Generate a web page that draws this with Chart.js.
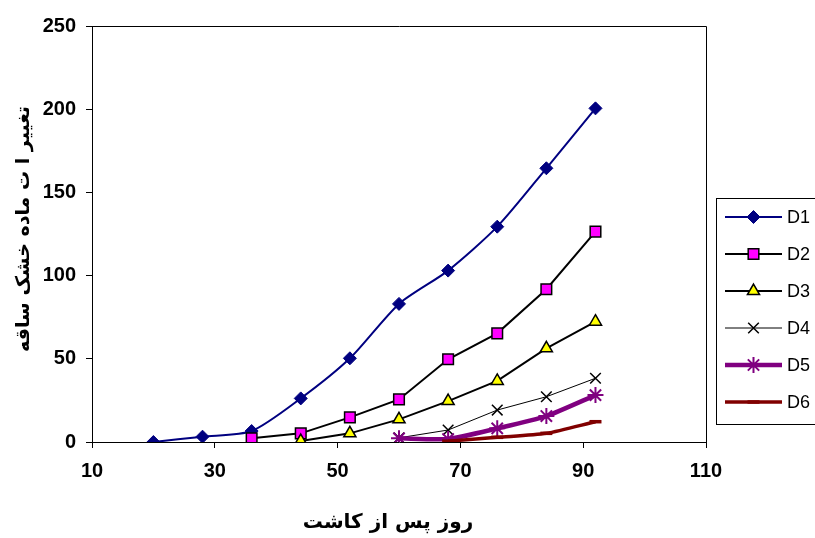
<!DOCTYPE html>
<html>
<head>
<meta charset="utf-8">
<script src="https://cdn.jsdelivr.net/npm/chart.js@4.4.0/dist/chart.umd.min.js"></script>
<style>
html,body{margin:0;padding:0;background:#fff;}
#wrap{width:815px;height:538px;position:relative;}
</style>
</head>
<body>
<div id="wrap"><canvas id="c" width="815" height="538"></canvas></div>
<script>
const days = [20, 28, 36, 44, 52, 60, 68, 76, 84, 92];
const seriesNames = ['D1', 'D2', 'D3', 'D4', 'D5', 'D6'];
const d1 = [0, 3.2, 6.6, 26.2, 50.3, 83, 103, 129.4, 164.5, 200.5];
const d2 = [null, null, 2.2, 5.2, 14.8, 25.6, 49.7, 65.3, 91.8, 126.4];
const d3 = [null, null, null, 0.6, 5.2, 13.6, 24.6, 36.7, 56.3, 72.3];
const d4 = [null, null, null, null, null, 2.5, 7.2, 19.2, 27.2, 38.3];
const d5 = [null, null, null, null, null, 2.2, 1.8, 8.2, 15.6, 28.2];
const d6 = [null, null, null, null, null, null, 0.5, 2.8, 5.2, 12.2];
const xTicks = [10, 30, 50, 70, 90, 110];
const yTicks = [0, 50, 100, 150, 200, 250];
const xTitle = 'روز پس از کاشت';
const yTitle = 'تغییر ا ت ماده خشک ساقه';

function pts(vals) {
  const out = [];
  vals.forEach((v, i) => { if (v !== null) out.push({x: days[i], y: v}); });
  return out;
}

const styles = [
  {line: '#000080', fill: '#000080', border: '#000080', lw: 2, ps: 'rectRot', r: 6.5, bw: 1, t: 0.25},
  {line: '#000000', fill: '#FF00FF', border: '#000000', lw: 2, ps: 'rect', r: 7.5, bw: 1.5, t: 0},
  {line: '#000000', fill: '#FFFF00', border: '#000000', lw: 2, ps: 'triangle', r: 7, bw: 1.5, t: 0},
  {line: '#000000', fill: '#000000', border: '#000000', lw: 1, ps: 'crossRot', r: 7.5, bw: 1.5, t: 0},
  {line: '#800080', fill: '#800080', border: '#800080', lw: 4.5, ps: 'star', r: 8, bw: 2, t: 0.2},
  {line: '#800000', fill: '#800000', border: '#800000', lw: 3.5, ps: 'line', r: 6, bw: 3.5, t: 0.25}
];
const allVals = [d1, d2, d3, d4, d5, d6];

const datasets = allVals.map((vals, i) => ({
  label: seriesNames[i],
  data: pts(vals),
  borderColor: styles[i].line,
  borderWidth: styles[i].lw,
  tension: styles[i].t,
  pointStyle: styles[i].ps,
  pointRadius: styles[i].r,
  pointHoverRadius: styles[i].r,
  pointBackgroundColor: styles[i].fill,
  pointBorderColor: styles[i].border,
  pointBorderWidth: styles[i].bw,
  fill: false,
  order: 6 - i
}));

const framePlugin = {
  id: 'frame',
  beforeDatasetsDraw(chart) {
    const a = chart.chartArea, ctx = chart.ctx;
    ctx.save();
    ctx.strokeStyle = '#000';
    ctx.lineWidth = 1;
    ctx.beginPath();
    ctx.moveTo(Math.round(a.left) + 0.5, Math.round(a.top) + 0.5);
    ctx.lineTo(Math.round(a.right) + 0.5, Math.round(a.top) + 0.5);
    ctx.lineTo(Math.round(a.right) + 0.5, Math.round(a.bottom) + 0.5);
    ctx.stroke();
    ctx.restore();
  }
};

const titlePlugin = {
  id: 'axisTitles',
  afterDraw(chart) {
    const ctx = chart.ctx;
    ctx.save();
    ctx.fillStyle = '#000';
    ctx.font = 'bold 20px "DejaVu Sans", sans-serif';
    ctx.textAlign = 'center';
    ctx.textBaseline = 'middle';
    ctx.fillText(xTitle, 388, 523);
    ctx.translate(24, 229);
    ctx.rotate(-Math.PI / 2);
    ctx.font = 'bold 19px "DejaVu Sans", sans-serif';
    ctx.fillText(yTitle, 0, 0);
    ctx.restore();
  }
};

const legendPlugin = {
  id: 'customLegend',
  afterDraw(chart) {
    const ctx = chart.ctx;
    ctx.save();
    ctx.strokeStyle = '#000';
    ctx.lineWidth = 1;
    ctx.strokeRect(716.5, 198.5, 120, 226);
    chart.data.datasets.forEach((ds, i) => {
      const y = 217 + 37 * i;
      ctx.strokeStyle = ds.borderColor;
      ctx.lineWidth = ds.borderWidth;
      ctx.beginPath();
      ctx.moveTo(725, y);
      ctx.lineTo(782, y);
      ctx.stroke();
      ctx.fillStyle = ds.pointBackgroundColor;
      ctx.strokeStyle = ds.pointBorderColor;
      ctx.lineWidth = ds.pointBorderWidth;
      if (Chart.helpers && Chart.helpers.drawPoint) {
        Chart.helpers.drawPoint(ctx, {pointStyle: ds.pointStyle, radius: ds.pointRadius, borderWidth: ds.pointBorderWidth, rotation: 0}, 753.5, y);
      }
      ctx.fillStyle = '#000';
      ctx.font = '18px "Liberation Sans", Arial, sans-serif';
      ctx.textAlign = 'left';
      ctx.textBaseline = 'middle';
      ctx.fillText(ds.label, 787, y + 1);
    });
    ctx.restore();
  }
};

const tickFont = {family: '"Liberation Sans", Arial, sans-serif', size: 20, weight: 'bold'};

new Chart(document.getElementById('c'), {
  type: 'line',
  data: {datasets},
  options: {
    responsive: false,
    animation: false,
    layout: {padding: {left: 0, right: 109, top: 26, bottom: 0}},
    plugins: {legend: {display: false}, tooltip: {enabled: false}},
    scales: {
      x: {
        type: 'linear',
        min: xTicks[0], max: xTicks[xTicks.length - 1],
        afterBuildTicks: s => { s.ticks = xTicks.map(v => ({value: v})); },
        afterFit: s => { s.height = 96; },
        grid: {drawOnChartArea: false, tickLength: 6, color: '#000', tickColor: '#000'},
        border: {color: '#000', width: 1},
        ticks: {font: tickFont, color: '#000', padding: 11, maxRotation: 0, autoSkip: false}
      },
      y: {
        type: 'linear',
        min: yTicks[0], max: yTicks[yTicks.length - 1],
        afterBuildTicks: s => { s.ticks = yTicks.map(v => ({value: v})); },
        afterFit: s => { s.width = 92; },
        grid: {drawOnChartArea: false, tickLength: 6, color: '#000', tickColor: '#000'},
        border: {color: '#000', width: 1},
        ticks: {font: tickFont, color: '#000', padding: 10, autoSkip: false}
      }
    }
  },
  plugins: [framePlugin, titlePlugin, legendPlugin]
});
</script>
</body>
</html>
